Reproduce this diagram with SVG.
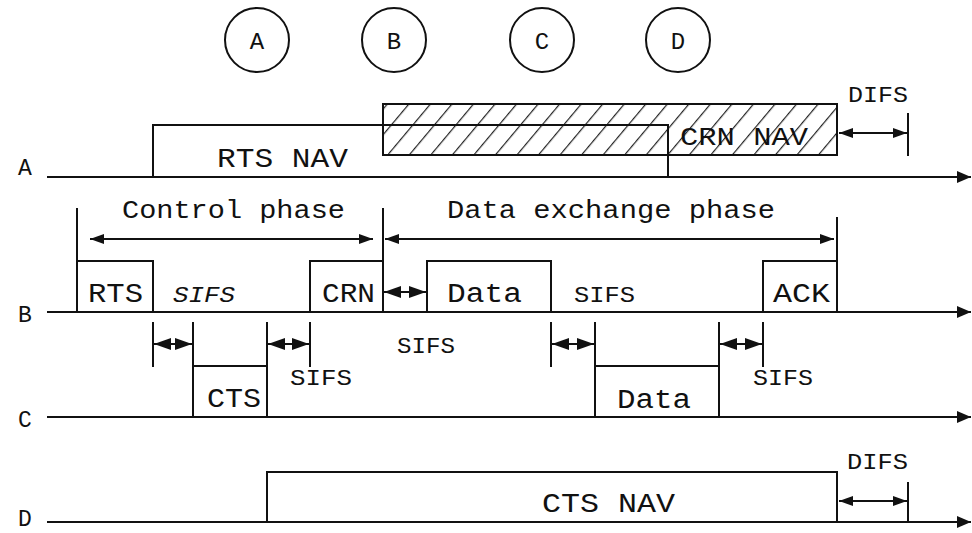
<svg xmlns="http://www.w3.org/2000/svg" width="972" height="533" viewBox="0 0 972 533">
  <style>
    .ln { stroke: #111; stroke-width: 2; fill: none; }
    .t { font-family: "Liberation Mono", "Courier New", monospace; fill: #111; }
    .box { font-size: 27px; }
    .lab { font-size: 25px; }
    .sm { font-size: 22px; }
    .row { font-size: 23px; text-anchor: middle; }
    .cir { font-size: 24px; text-anchor: middle; }
    .dbl { marker-start: url(#head); marker-end: url(#head); }
    .gap { marker-start: url(#shead); marker-end: url(#shead); }
    .tl { marker-end: url(#tip); }
    .hatched { fill: url(#hatch); stroke: #111; stroke-width: 2; }
  </style>
  <defs>
    <marker id="head" viewBox="0 0 14 10" refX="14" refY="5" markerWidth="14" markerHeight="10" markerUnits="userSpaceOnUse" orient="auto-start-reverse">
      <path d="M0,0 L14,5 L0,10 z" fill="#111"/>
    </marker>
    <marker id="shead" viewBox="0 0 17 12" refX="17" refY="6" markerWidth="17" markerHeight="12" markerUnits="userSpaceOnUse" orient="auto-start-reverse">
      <path d="M0,0 L17,6 L0,12 z" fill="#111"/>
    </marker>
    <marker id="tip" viewBox="0 0 14 12" refX="14" refY="6" markerWidth="14" markerHeight="12" markerUnits="userSpaceOnUse" orient="auto">
      <path d="M0,0 L14,6 L0,12 z" fill="#111"/>
    </marker>
    <pattern id="hatch" patternUnits="userSpaceOnUse" width="16.5" height="16.5" patternTransform="rotate(40)">
      <line x1="0.6" y1="0" x2="0.6" y2="16.5" stroke="#222" stroke-width="1.2"/>
    </pattern>
  </defs>

  <!-- station circles -->
  <g id="station-A"><circle cx="257" cy="40" r="32" class="ln"/><text class="t cir" x="257" y="49">A</text></g>
  <g id="station-B"><circle cx="394" cy="40" r="32" class="ln"/><text class="t cir" x="394" y="49">B</text></g>
  <g id="station-C"><circle cx="542" cy="40" r="32" class="ln"/><text class="t cir" x="542" y="49">C</text></g>
  <g id="station-D"><circle cx="678" cy="40" r="32" class="ln"/><text class="t cir" x="678" y="49">D</text></g>

  <!-- row labels -->
  <g id="row-labels">
    <text class="t row" x="25" y="175">A</text>
    <text class="t row" x="25" y="322">B</text>
    <text class="t row" x="25" y="427">C</text>
    <text class="t row" x="25" y="526">D</text>
  </g>

  <!-- station A: NAV periods -->
  <g id="crn-nav">
    <rect x="383" y="104" width="454" height="51" class="hatched"/>
    <text class="t" font-size="26" x="680" y="145" textLength="128" lengthAdjust="spacingAndGlyphs">CRN NAV</text>
  </g>
  <g id="rts-nav">
    <path class="ln" d="M153,177 V125 H668 V177"/>
    <text class="t box" x="217" y="167" textLength="131" lengthAdjust="spacingAndGlyphs">RTS NAV</text>
  </g>
  <g id="difs-a">
    <text class="t sm" x="848" y="102" textLength="60" lengthAdjust="spacingAndGlyphs">DIFS</text>
  </g>

  <!-- station B frames -->
  <g id="rts"><path class="ln" d="M77,312 V261 H153 V312"/><text class="t box" x="88" y="302" textLength="55" lengthAdjust="spacingAndGlyphs">RTS</text></g>
  <g id="crn"><path class="ln" d="M310,312 V261 H383"/><text class="t box" x="322" y="302" textLength="53" lengthAdjust="spacingAndGlyphs">CRN</text></g>
  <g id="data-b"><path class="ln" d="M427,312 V261 H551 V312"/><text class="t box" x="447" y="302" textLength="75" lengthAdjust="spacingAndGlyphs">Data</text></g>
  <g id="ack"><path class="ln" d="M763,312 V261 H837"/><text class="t box" x="773" y="302" textLength="57" lengthAdjust="spacingAndGlyphs">ACK</text></g>

  <!-- station C frames -->
  <g id="cts"><path class="ln" d="M193,322 V417 M193,366 H267 M267,322 V417"/><text class="t box" x="207" y="407" textLength="54" lengthAdjust="spacingAndGlyphs">CTS</text></g>
  <g id="data-c"><path class="ln" d="M595,322 V417 M595,366 H719 M719,322 V417"/><text class="t box" x="617" y="408" textLength="74" lengthAdjust="spacingAndGlyphs">Data</text></g>

  <!-- station D: CTS NAV -->
  <g id="cts-nav"><path class="ln" d="M267,522 V472 H837 V522"/><text class="t box" x="542" y="512" textLength="133" lengthAdjust="spacingAndGlyphs">CTS NAV</text></g>
  <g id="difs-d"><text class="t sm" x="847" y="469" textLength="61" lengthAdjust="spacingAndGlyphs">DIFS</text></g>

  <!-- phase labels -->
  <g id="control-phase"><text class="t lab" x="122" y="218" textLength="223" lengthAdjust="spacingAndGlyphs">Control phase</text></g>
  <g id="data-phase"><text class="t lab" x="447" y="218" textLength="328" lengthAdjust="spacingAndGlyphs">Data exchange phase</text></g>

  <!-- SIFS labels -->
  <g id="sifs-labels">
    <text class="t sm" font-style="italic" x="173" y="302" textLength="62" lengthAdjust="spacingAndGlyphs">SIFS</text>
    <text class="t sm" x="574" y="302" textLength="61" lengthAdjust="spacingAndGlyphs">SIFS</text>
    <text class="t sm" x="397" y="353" textLength="58" lengthAdjust="spacingAndGlyphs">SIFS</text>
    <text class="t sm" x="290" y="385" textLength="62" lengthAdjust="spacingAndGlyphs">SIFS</text>
    <text class="t sm" x="753" y="385" textLength="60" lengthAdjust="spacingAndGlyphs">SIFS</text>
  </g>

  <!-- connectors: timelines, ticks and interval arrows -->
  <g id="connectors">
    <line class="ln tl" x1="47" y1="177" x2="971" y2="177"/>
    <line class="ln tl" x1="47" y1="312" x2="971" y2="312"/>
    <line class="ln tl" x1="47" y1="417" x2="971" y2="417"/>
    <line class="ln tl" x1="47" y1="522" x2="971" y2="522"/>

    <!-- phase boundaries -->
    <line class="ln" x1="77" y1="208" x2="77" y2="312"/>
    <line class="ln" x1="383" y1="208" x2="383" y2="312"/>
    <line class="ln" x1="837" y1="217" x2="837" y2="312"/>
    <line class="ln dbl" x1="90" y1="239" x2="373" y2="239"/>
    <line class="ln dbl" x1="385" y1="239" x2="834" y2="239"/>

    <!-- SIFS ticks -->
    <line class="ln" x1="153" y1="322" x2="153" y2="367"/>
    <line class="ln" x1="310" y1="322" x2="310" y2="367"/>
    <line class="ln" x1="551" y1="322" x2="551" y2="367"/>
    <line class="ln" x1="763" y1="322" x2="763" y2="367"/>

    <!-- SIFS intervals -->
    <line class="ln gap" x1="154" y1="344" x2="192" y2="344"/>
    <line class="ln gap" x1="268" y1="344" x2="309" y2="344"/>
    <line class="ln gap" x1="552" y1="344" x2="594" y2="344"/>
    <line class="ln gap" x1="720" y1="344" x2="762" y2="344"/>
    <line class="ln gap" x1="384" y1="292" x2="426" y2="292"/>

    <!-- DIFS intervals -->
    <line class="ln" x1="908" y1="113" x2="908" y2="156"/>
    <line class="ln dbl" x1="839" y1="133" x2="907" y2="133"/>
    <line class="ln" x1="908" y1="482" x2="908" y2="522"/>
    <line class="ln dbl" x1="839" y1="501" x2="907" y2="501"/>
  </g>
</svg>
